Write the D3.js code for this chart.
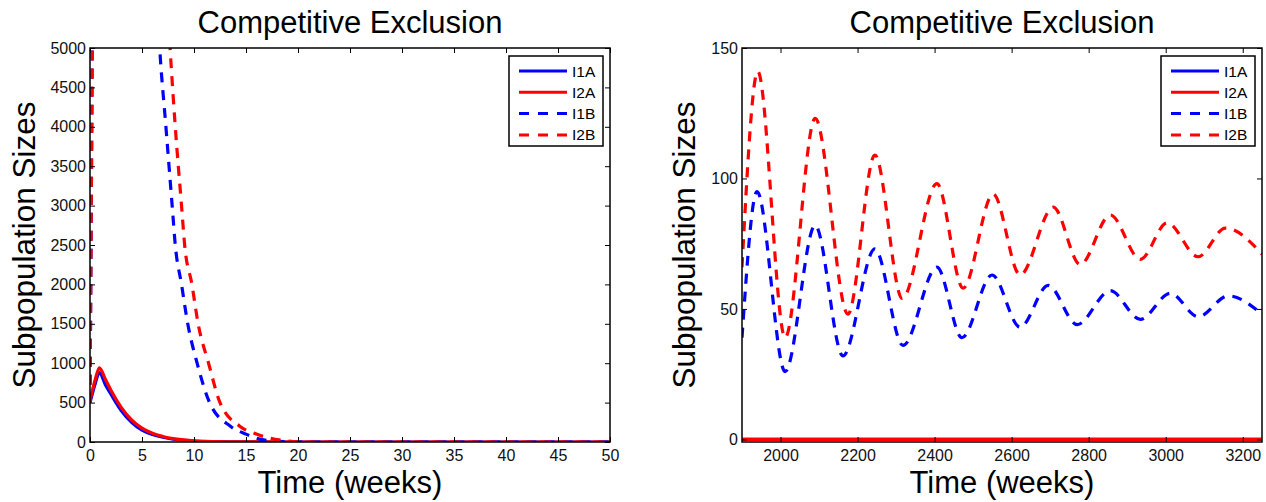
<!DOCTYPE html>
<html>
<head>
<meta charset="utf-8">
<script src="https://cdn.jsdelivr.net/npm/d3@7"></script>
<style>
  body { margin: 0; background: #fff; }
  svg { display: block; font-family: 'Liberation Sans', Arial, sans-serif; }
  .tick text { fill: #111; font-size: 16px; }
  .line { fill: none; stroke-width: 3.2; stroke-linejoin: round; }
</style>
</head>
<body>
<div id="chart"></div>
<script>
// left panel (weeks 0-50)
const leftATimes = [0, 0.5, 0.9, 1.5, 2, 3, 4, 5, 6, 7, 8, 10, 12, 15, 20, 30, 50]
const leftI1A = [500, 740, 880, 720, 610, 400, 250, 150, 95, 60, 35, 12, 5, 1, 0, 0, 0]
const leftI2A = [530, 790, 940, 790, 660, 440, 280, 175, 110, 70, 42, 15, 6, 2, 0, 0, 0]
const leftI1BTimes = [0, 0.1, 0.3, 2, 5, 6.7, 7.3, 7.9, 8.2, 8.8, 9.4, 10.3, 11.5, 13.5, 15, 17, 20, 30, 50]
const leftI1B = [500, 2500, 7000, 30000, 11000, 5000, 4000, 3000, 2500, 2000, 1500, 1000, 500, 200, 100, 20, 0, 0, 0]
const leftI2BTimes = [0, 0.1, 0.3, 2, 5, 7.7, 8.2, 8.8, 9.1, 9.8, 10.4, 11.4, 12.5, 14.4, 16, 18, 21, 30, 50]
const leftI2B = [500, 2500, 7000, 35000, 14000, 5000, 4000, 3000, 2500, 2000, 1500, 1000, 500, 200, 100, 30, 0, 0, 0]
const leftXTicks = [0, 5, 10, 15, 20, 25, 30, 35, 40, 45, 50]
const leftYTicks = [0, 500, 1000, 1500, 2000, 2500, 3000, 3500, 4000, 4500, 5000]

// right panel (weeks 1900-3250)
const rightATimes = [1900, 3250]
const rightI1A = [0, 0]
const rightI2A = [0, 0]
const rightI1BTimes = [1900, 1939, 2012, 2090, 2162, 2245, 2318, 2406, 2471, 2549, 2622, 2695, 2770, 2856, 2934, 3012, 3084, 3162, 3250]
const rightI1B = [39, 95, 26, 82, 32, 73, 36, 66, 39, 63, 43, 59, 44, 57, 46, 56, 47, 55, 48]
const rightI2BTimes = [1900, 1941, 2012, 2090, 2175, 2245, 2316, 2406, 2474, 2552, 2622, 2708, 2778, 2856, 2934, 3004, 3084, 3155, 3250]
const rightI2B = [66, 141, 39, 123, 48, 109, 54, 98, 58, 94, 63, 89, 67, 86, 69, 83, 70, 81, 71]
const rightXTicks = [2000, 2200, 2400, 2600, 2800, 3000, 3200]
const rightYTicks = [0, 50, 100, 150]

const seriesNames = ['I1A', 'I2A', 'I1B', 'I2B']
const seriesColors = ['#0000ff', '#ff0000', '#0000ff', '#ff0000']
const seriesDashed = [false, false, true, true]

const width = 1266, height = 502
const svg = d3.select('#chart').append('svg')
  .attr('width', width)
  .attr('height', height)

const zip = (ts, vs) => ts.map((t, i) => ({t: t, v: vs[i]}))
const plain = d3.format('d')

function drawPanel(cfg) {
  let x = d3.scaleLinear().domain(cfg.xDomain).range([cfg.left, cfg.right])
  let y = d3.scaleLinear().domain(cfg.yDomain).range([cfg.bottom, cfg.top])
  let g = svg.append('g')

  g.append('clipPath').attr('id', cfg.id + '-clip')
    .append('rect')
    .attr('x', cfg.left).attr('y', cfg.top)
    .attr('width', cfg.right - cfg.left).attr('height', cfg.bottom - cfg.top)

  let line = d3.line()
    .x(d => x(d.t))
    .y(d => y(d.v))
    .curve(d3.curveMonotoneX)

  let plot = g.append('g').attr('clip-path', 'url(#' + cfg.id + '-clip)')
  cfg.series.forEach((s, i) => {
    plot.append('path')
      .datum(s)
      .attr('class', 'line')
      .attr('stroke', seriesColors[i])
      .attr('stroke-dasharray', seriesDashed[i] ? '10,8' : null)
      .attr('d', line)
  })

  // axes, ticks point inwards on all four sides
  let styleAxis = sel => {
    sel.select('.domain').remove()
    sel.selectAll('.tick line').attr('stroke', '#000').attr('stroke-width', 1)
  }
  g.append('g').attr('transform', 'translate(0,' + cfg.bottom + ')')
    .call(d3.axisBottom(x).tickValues(cfg.xTicks).tickSize(-5).tickPadding(8).tickFormat(plain))
    .call(styleAxis)
  g.append('g').attr('transform', 'translate(0,' + cfg.top + ')')
    .call(d3.axisTop(x).tickValues(cfg.xTicks).tickSize(-5).tickFormat(''))
    .call(styleAxis)
  g.append('g').attr('transform', 'translate(' + cfg.left + ',0)')
    .call(d3.axisLeft(y).tickValues(cfg.yTicks).tickSize(-5).tickPadding(4).tickFormat(plain))
    .call(styleAxis)
  g.append('g').attr('transform', 'translate(' + cfg.right + ',0)')
    .call(d3.axisRight(y).tickValues(cfg.yTicks).tickSize(-5).tickFormat(''))
    .call(styleAxis)
  g.selectAll('.tick text').attr('font-family', null).attr('font-size', null)

  g.append('rect')
    .attr('x', cfg.left).attr('y', cfg.top)
    .attr('width', cfg.right - cfg.left).attr('height', cfg.bottom - cfg.top)
    .attr('fill', 'none').attr('stroke', '#000').attr('stroke-width', 1.5)

  let cx = (cfg.left + cfg.right) / 2
  g.append('text')
    .attr('x', cx).attr('y', 33)
    .attr('text-anchor', 'middle')
    .attr('font-size', 31)
    .text('Competitive Exclusion')
  g.append('text')
    .attr('x', cx).attr('y', 493)
    .attr('text-anchor', 'middle')
    .attr('font-size', 31)
    .text('Time (weeks)')
  g.append('text')
    .attr('transform', 'translate(' + cfg.yLabelX + ',' + (cfg.top + cfg.bottom) / 2 + ') rotate(-90)')
    .attr('text-anchor', 'middle')
    .attr('font-size', 31.5)
    .text('Subpopulation Sizes')

  // legend
  let lx = cfg.right - 101, ly = cfg.top + 8
  let legend = g.append('g').attr('transform', 'translate(' + lx + ',' + ly + ')')
  legend.append('rect')
    .attr('width', 94).attr('height', 90)
    .attr('fill', '#fff').attr('stroke', '#000').attr('stroke-width', 1.5)
  seriesNames.forEach((name, i) => {
    let ry = 15 + i * 21.3
    legend.append('line')
      .attr('x1', 10).attr('x2', 58)
      .attr('y1', ry).attr('y2', ry)
      .attr('stroke', seriesColors[i])
      .attr('stroke-width', 3)
      .attr('stroke-dasharray', seriesDashed[i] ? '10,9' : null)
    legend.append('text')
      .attr('x', 63).attr('y', ry + 5.5)
      .attr('font-size', 15.5)
      .text(name)
  })
}

drawPanel({
  id: 'left', left: 90, right: 610, top: 48, bottom: 442, yLabelX: 35,
  xDomain: [0, 50], yDomain: [0, 5000],
  xTicks: leftXTicks, yTicks: leftYTicks,
  series: [zip(leftATimes, leftI1A), zip(leftATimes, leftI2A),
           zip(leftI1BTimes, leftI1B), zip(leftI2BTimes, leftI2B)]
})

drawPanel({
  id: 'right', left: 742, right: 1262, top: 48, bottom: 442, yLabelX: 695,
  xDomain: [1900, 3250], yDomain: [-1, 150],
  xTicks: rightXTicks, yTicks: rightYTicks,
  series: [zip(rightATimes, rightI1A), zip(rightATimes, rightI2A),
           zip(rightI1BTimes, rightI1B), zip(rightI2BTimes, rightI2B)]
})
</script>
</body>
</html>
